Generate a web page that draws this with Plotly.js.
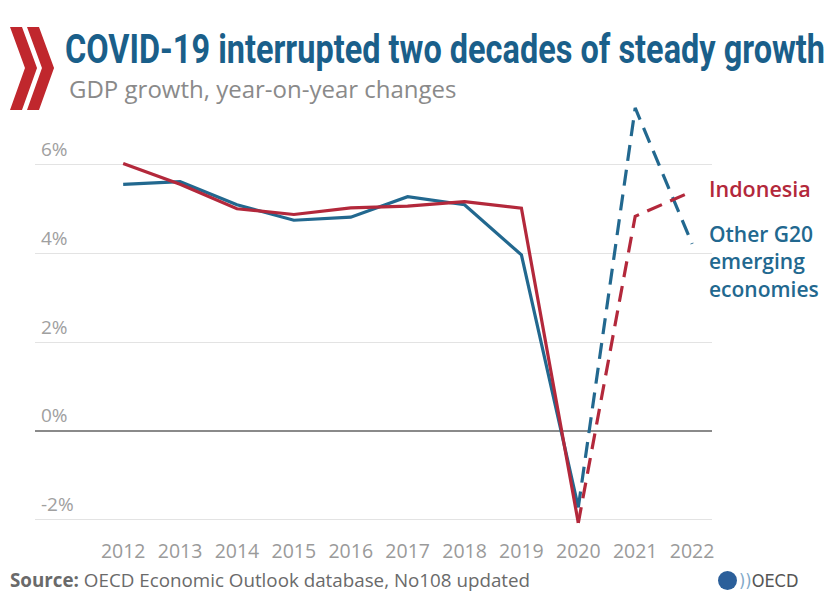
<!DOCTYPE html>
<html><head><meta charset="utf-8">
<script src="https://cdn.plot.ly/plotly-3.0.1.min.js"></script>
<style>body{margin:0;background:#fff}#c{width:832px;height:595px}</style>
</head><body><div id="c"></div>
<script>
const years = [2012, 2013, 2014, 2015, 2016, 2017, 2018, 2019, 2020, 2021, 2022];
const indonesia = [6.03, 5.56, 5.01, 4.88, 5.03, 5.07, 5.17, 5.02, -2.07, 4.84, 5.40];
const otherG20 = [5.56, 5.62, 5.10, 4.75, 4.82, 5.28, 5.10, 3.97, -1.72, 7.28, 4.22];
const lastActual = 2020;
const yTicks = [-2, 0, 2, 4, 6];
const yTickText = ["-2%", "0%", "2%", "4%", "6%"];

const red = "#b3283b", blue = "#22688f";
function part(xs, ys, pred){ const X=[],Y=[]; xs.forEach((x,i)=>{ if(pred(x)){X.push(x);Y.push(ys[i]);} }); return {X,Y}; }
function traces(vals, color){
  const a = part(years, vals, x=>x<=lastActual), b = part(years, vals, x=>x>=lastActual);
  return [
    {x:a.X, y:a.Y, mode:"lines", line:{color:color, width:3.2}, hoverinfo:"skip"},
    {x:b.X, y:b.Y, mode:"lines", line:{color:color, width:3.2, dash:"16px,9px"}, hoverinfo:"skip"}
  ];
}
const data = [...traces(otherG20, blue), ...traces(indonesia, red)];

// plot area: x 35..712, y 100..530 (pixels) -> helpers for decorative paper positions
const L=35, R=712, T=100, B=530;
const px = v => (v-L)/(R-L), py = v => (B-v)/(B-T);
function chevron(x0){
  const pts=[[x0,27],[x0+12,27],[x0+27,68],[x0+12,110],[x0,110],[x0+15,68]];
  return "M "+pts.map(p=>px(p[0]).toFixed(4)+" "+py(p[1]).toFixed(4)).join(" L ")+" Z";
}

const layout = {
  width:832, height:595, showlegend:false,
  paper_bgcolor:"#fff", plot_bgcolor:"#fff",
  margin:{l:L, r:832-R, t:T, b:595-B},
  xaxis:{range:[2010.45, 2022.35], tickvals:years, ticktext:years.map(String), showgrid:false, zeroline:false,
         showline:false, ticks:"", ticklabelstandoff:7, tickfont:{family:"Open Sans", size:19.5, color:"#9a9a9a"}},
  yaxis:{range:[-2.23, 7.46], tickvals:yTicks, ticktext:yTickText, ticklabelposition:"inside top",
         ticklabelshift:-2, ticklabelstandoff:3,
         showgrid:true, gridcolor:"#e3e3e3", gridwidth:1.2, zeroline:true, zerolinecolor:"#8a8a8a", zerolinewidth:1.6,
         ticks:"", showline:false, tickfont:{family:"Open Sans", size:19, color:"#a0a0a0"}},
  title:{text:"COVID-19 interrupted two decades of steady growth", x:65/832, xref:"container", xanchor:"left",
         y:1-49/595, yref:"container", yanchor:"middle",
         font:{family:"Roboto", size:32.5, weight:700, color:"#1a5f8a"}},
  annotations:[
    {text:"GDP growth, year-on-year changes", xref:"paper", yref:"paper", x:px(67), y:py(88), xanchor:"left", yanchor:"middle",
     showarrow:false, font:{family:"Open Sans", size:24, color:"#8a8a8a"}},
    {text:"Indonesia", xref:"paper", yref:"paper", x:px(707), y:py(188), xanchor:"left", yanchor:"middle",
     showarrow:false, font:{family:"Open Sans", size:21.5, weight:600, color:red}},
    {text:"Other G20<br>emerging<br>economies", xref:"paper", yref:"paper", x:px(707), y:py(261), xanchor:"left", yanchor:"middle", align:"left",
     showarrow:false, font:{family:"Open Sans", size:21, weight:600, color:blue}},
    {text:"<b>Source:</b> OECD Economic Outlook database, No108 updated", xref:"paper", yref:"paper", x:px(8), y:py(580),
     xanchor:"left", yanchor:"middle", showarrow:false, font:{family:"Open Sans", size:18.8, color:"#6a6a6a"}},
    {text:"<span style='color:#7fa9c9'>))</span>OECD", xref:"paper", yref:"paper", x:px(737), y:py(580), xanchor:"left", yanchor:"middle",
     showarrow:false, font:{family:"DejaVu Sans Condensed", size:18, color:"#555"}}
  ],
  shapes:[
    {type:"path", xref:"paper", yref:"paper", path:chevron(10), fillcolor:"#c0272d", line:{width:0}},
    {type:"path", xref:"paper", yref:"paper", path:chevron(27), fillcolor:"#c0272d", line:{width:0}},
    {type:"circle", xref:"paper", yref:"paper", x0:px(718), x1:px(737), y0:py(590), y1:py(571), fillcolor:"#2b5f9a", line:{width:0}}
  ]
};
Plotly.newPlot("c", data, layout, {displayModeBar:false, staticPlot:true}).then(gd=>{
  const t = gd.querySelector(".gtitle");
  if(t){
    t.setAttribute("textLength","760"); t.setAttribute("lengthAdjust","spacingAndGlyphs");
    const k = 1.25, y0 = parseFloat(t.getAttribute("y")) || 0;
    t.setAttribute("transform", "translate(0," + (y0*(1-k)).toFixed(2) + ") scale(1," + k + ")");
  }
});
</script></body></html>
